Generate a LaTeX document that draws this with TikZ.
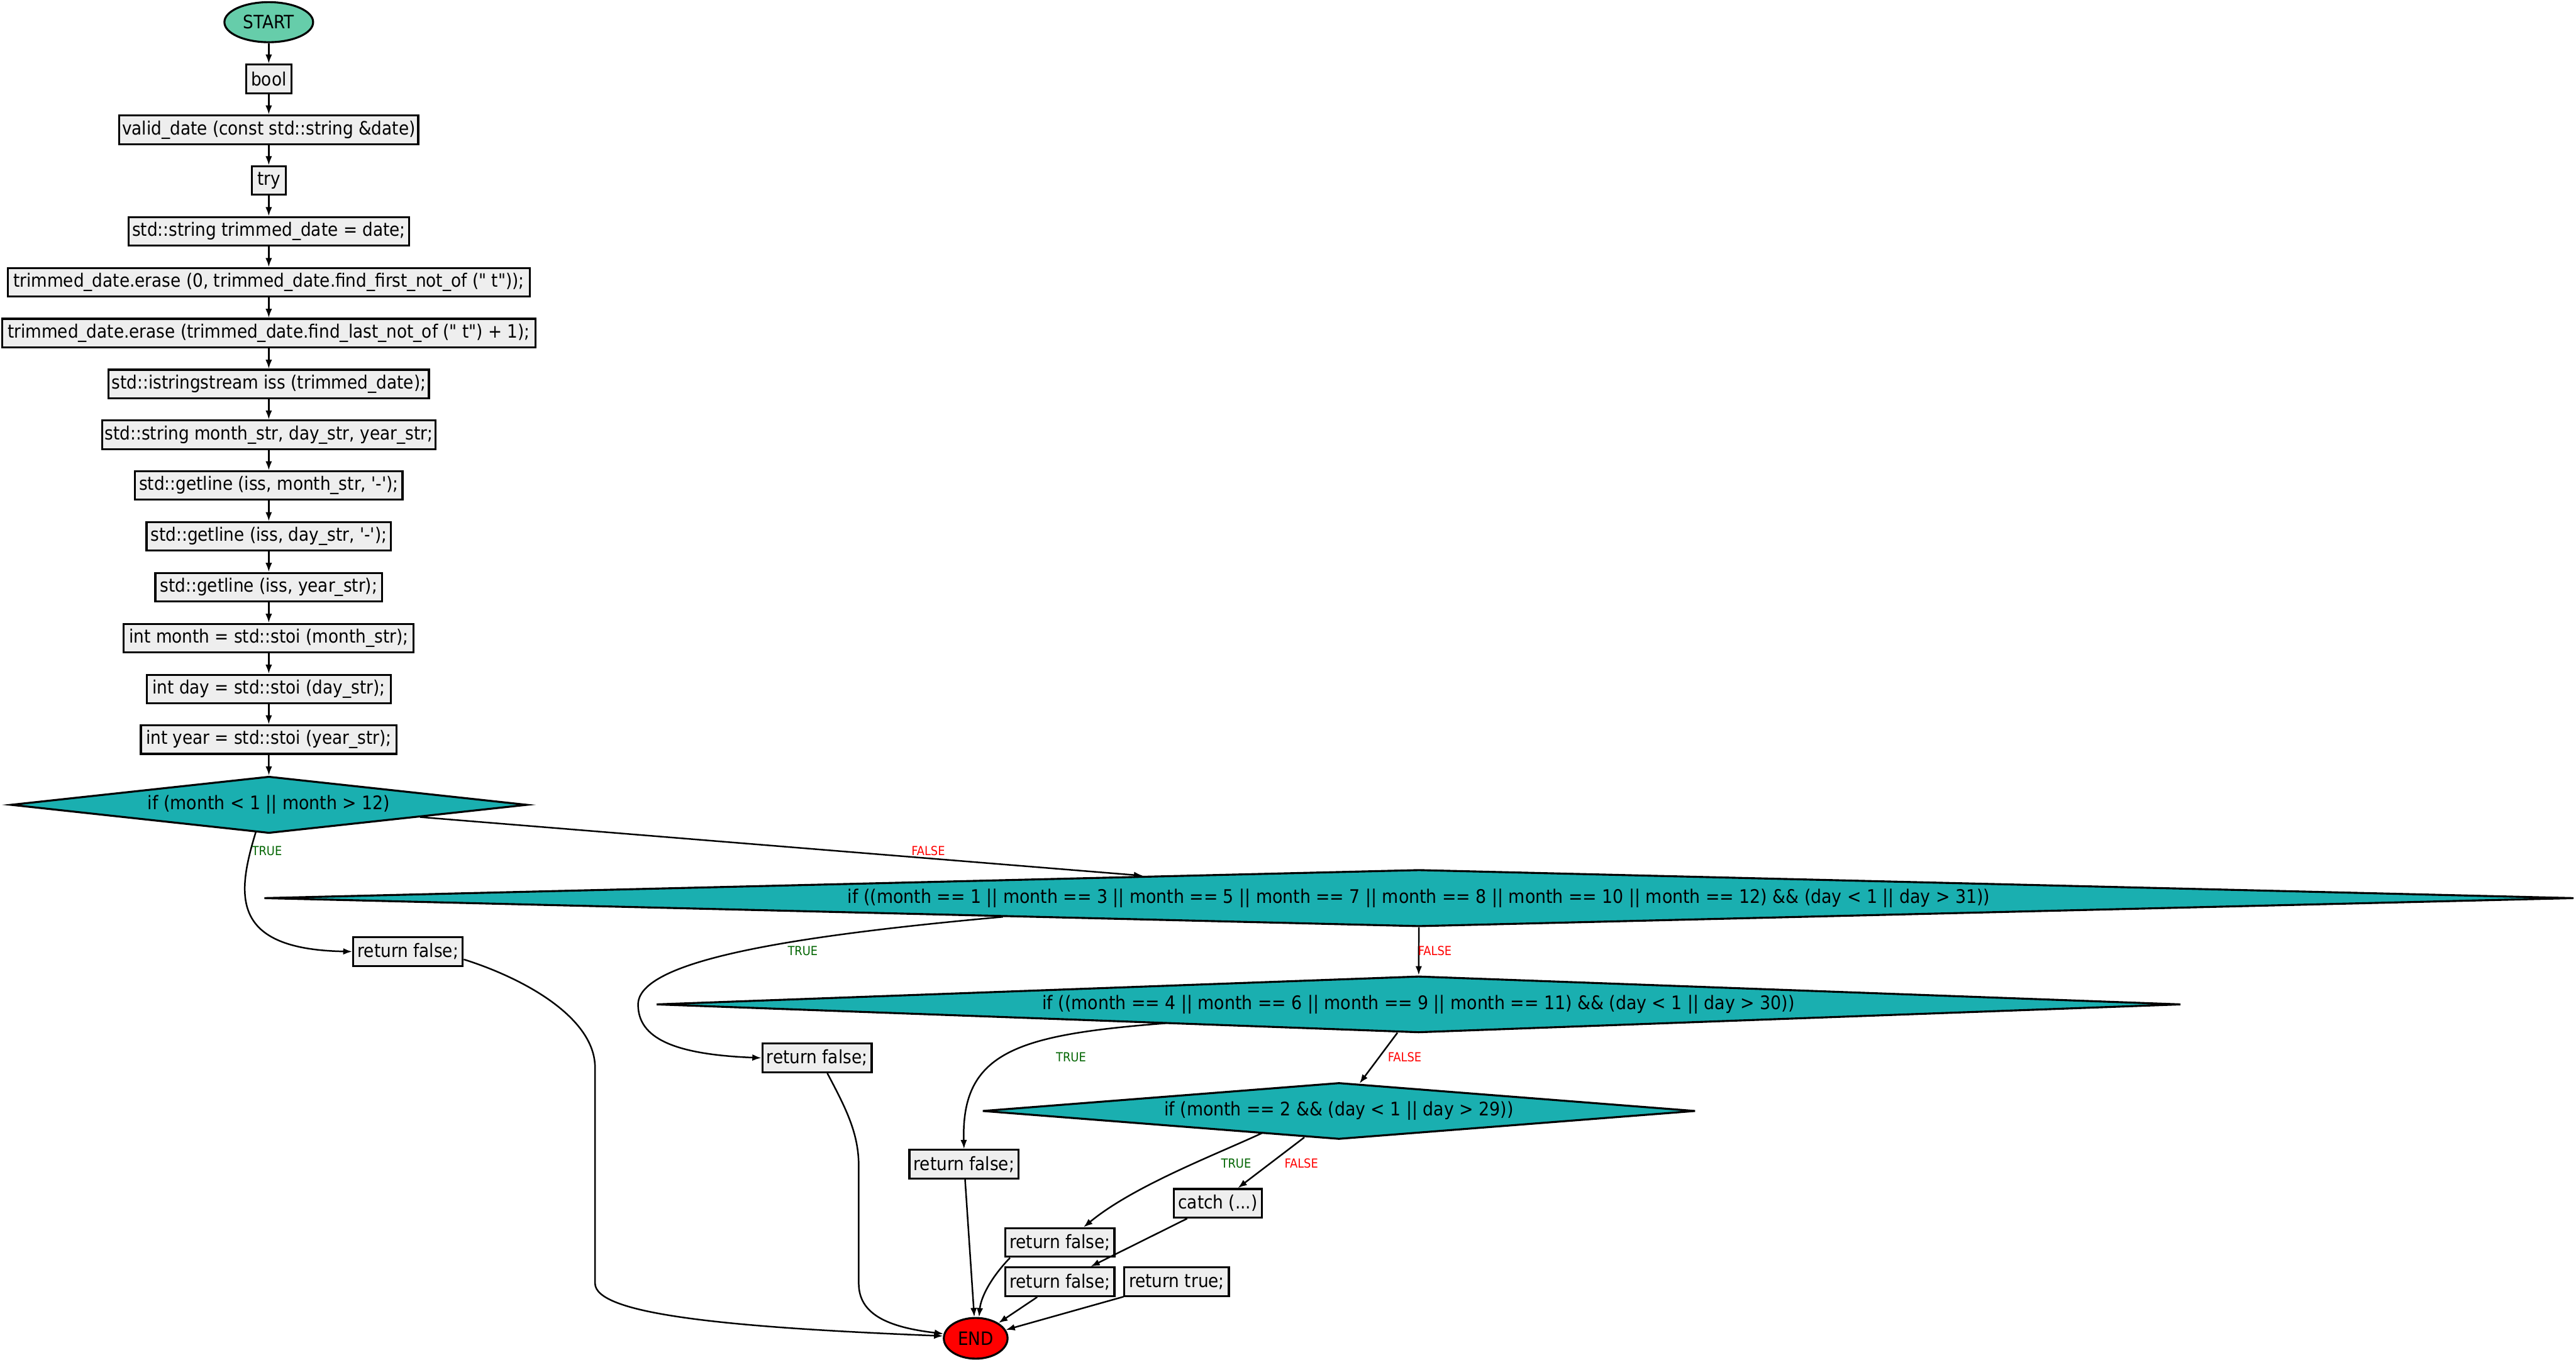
\documentclass[tikz,border=0pt]{standalone}
\usepackage{fontspec}
\newfontfamily\codefont{DejaVu Sans Condensed}
\usetikzlibrary{shapes.geometric,arrows.meta,calc}
\definecolor{boxfill}{HTML}{EEEEEE}
\definecolor{decfill}{HTML}{1AAFB0}
\definecolor{startfill}{HTML}{66CDAA}
\definecolor{truegreen}{HTML}{006400}
\begin{document}
\begin{tikzpicture}[x=1pt,y=-1pt,
  box/.style={draw,line width=1.2pt,fill=boxfill,rectangle,inner sep=0pt,minimum height=17.4pt,font=\codefont\fontsize{11.2}{12}\selectfont},
  dec/.style={draw,line width=1.2pt,fill=decfill,diamond,inner sep=0pt,aspect=1,font=\codefont\fontsize{11.4}{12}\selectfont},
  term/.style={draw,line width=1.2pt,ellipse,inner sep=0pt,font=\codefont\fontsize{11.2}{12}\selectfont},
  flow/.style={line width=0.95pt,-{Latex[length=5.5pt,width=4pt]}},
  tlab/.style={font=\codefont\fontsize{7.6}{8}\selectfont,text=truegreen,inner sep=0pt},
  flab/.style={font=\codefont\fontsize{7.6}{8}\selectfont,text=red,inner sep=0pt}]
\useasboundingbox (0,0) rectangle (1568,828);

% main column
\node[term,fill=startfill,minimum width=54pt,minimum height=24.4pt] (nstart) at (163.6,13.5) {START};
\node[box,minimum width=27.6pt] (bool) at (163.6,48) {bool};
\node[box,minimum width=181.9pt] (valid) at (163.6,79) {valid\_date (const std::string \&date)};
\node[box,minimum width=20.5pt] (try) at (163.6,109.9) {try};
\node[box,minimum width=170.7pt] (trim) at (163.6,140.9) {std::string trimmed\_date = date;};
\node[box,minimum width=317.6pt] (erase1) at (163.6,171.9) {trimmed\_date.erase (0, trimmed\_date.find\_first\_not\_of (" t"));};
\node[box,minimum width=324.7pt] (erase2) at (163.6,202.8) {trimmed\_date.erase (trimmed\_date.find\_last\_not\_of (" t") + 1);};
\node[box,minimum width=194.9pt] (iss) at (163.6,233.8) {std::istringstream iss (trimmed\_date);};
\node[box,minimum width=203pt] (strs) at (163.6,264.7) {std::string month\_str, day\_str, year\_str;};
\node[box,minimum width=162.8pt] (gl1) at (163.6,295.6) {std::getline (iss, month\_str, '-');};
\node[box,minimum width=148.8pt] (gl2) at (163.6,326.6) {std::getline (iss, day\_str, '-');};
\node[box,minimum width=138.1pt] (gl3) at (163.6,357.5) {std::getline (iss, year\_str);};
\node[box,minimum width=176.5pt] (imonth) at (163.6,388.5) {int month = std::stoi (month\_str);};
\node[box,minimum width=148.4pt] (iday) at (163.6,419.5) {int day = std::stoi (day\_str);};
\node[box,minimum width=155.7pt] (iyear) at (163.6,450.3) {int year = std::stoi (year\_str);};

% decisions
\node[dec,minimum width=314.4pt,minimum height=34.6pt] (d1) at (163.7,490) {\makebox[0pt]{if (month < 1 || month > 12)}};
\node[dec,minimum width=1406pt,minimum height=34.6pt] (d2) at (863.7,546.8) {\makebox[0pt]{if ((month == 1 || month == 3 || month == 5 || month == 7 || month == 8 || month == 10 || month == 12) \&\& (day < 1 || day > 31))}};
\node[dec,minimum width=928pt,minimum height=34.4pt] (d3) at (863.5,611.5) {\makebox[0pt]{if ((month == 4 || month == 6 || month == 9 || month == 11) \&\& (day < 1 || day > 30))}};
\node[dec,minimum width=434pt,minimum height=34.4pt] (d4) at (815,676.4) {\makebox[0pt]{if (month == 2 \&\& (day < 1 || day > 29))}};

% returns
\node[box,minimum width=66.7pt] (rf1) at (248.35,579.35) {return false;};
\node[box,minimum width=66.5pt] (rf2) at (497.3,644.1) {return false;};
\node[box,minimum width=66.5pt] (rf3) at (586.8,708.8) {return false;};
\node[box,minimum width=53.7pt] (catch) at (741.3,732.6) {catch (...)};
\node[box,minimum width=66.3pt] (rf4) at (645.2,756.5) {return false;};
\node[box,minimum width=66.3pt] (rf5) at (645.2,780.4) {return false;};
\node[box,minimum width=63.6pt] (rt) at (716.2,780.4) {return true;};
\node[term,fill=red,minimum width=38.8pt,minimum height=24.8pt] (nend) at (593.9,814.8) {END};

% column edges
\draw[flow] (nstart) -- (bool);
\draw[flow] (bool) -- (valid);
\draw[flow] (valid) -- (try);
\draw[flow] (try) -- (trim);
\draw[flow] (trim) -- (erase1);
\draw[flow] (erase1) -- (erase2);
\draw[flow] (erase2) -- (iss);
\draw[flow] (iss) -- (strs);
\draw[flow] (strs) -- (gl1);
\draw[flow] (gl1) -- (gl2);
\draw[flow] (gl2) -- (gl3);
\draw[flow] (gl3) -- (imonth);
\draw[flow] (imonth) -- (iday);
\draw[flow] (iday) -- (iyear);
\draw[flow] (iyear) -- (d1);

% decision edges
\draw[flow] ($(d1.center)+(-8,16.6)$) .. controls (144,545) and (140,578) .. (rf1.west);
\draw[flow] (d1) -- (d2);
\draw[flow] ($(d2.center)+(-253.1,11.4)$) .. controls (480,570) and (388.4,585) .. (388.4,611.6) .. controls (388.4,632) and (410,642) .. (rf2.west);
\draw[flow] (d2) -- (d3);
\draw[flow] ($(d3.center)+(-154.2,11.5)$) .. controls (620,630) and (585,640) .. (rf3.north);
\draw[flow] (d3) -- (d4);
\draw[flow] ($(d4.center)+(-46.9,13.5)$) .. controls (740,703) and (690,722) .. (rf4.33);
\draw[flow] (d4) -- (catch);
\draw[flow] (catch) -- (rf5);

% edges to END
\draw[flow] (rf1.-8) .. controls (320,596) and (362.2,620) .. (362.2,650) -- (362.2,781.3) .. controls (362.2,800) and (440,808) .. (nend.176);
\draw[flow] (rf2.-56.5) .. controls (515,675) and (522.7,690) .. (522.7,710) -- (522.7,781.3) .. controls (522.7,800) and (540,808) .. (nend.172);
\draw[flow] (rf3) -- (nend);
\draw[flow] (rf4.197.2) .. controls (603,778) and (597,790) .. (nend.81);
\draw[flow] (rf5) -- (nend);
\draw[flow] (rt) -- (nend);

% labels
\node[tlab] (lt1) at (162.5,518) {TRUE};
\node[flab] (lf1) at (565,518) {FALSE};
\node[tlab] (lt2) at (488.6,578.8) {TRUE};
\node[flab] (lf2) at (873.4,578.8) {FALSE};
\node[tlab] (lt3) at (651.9,643.6) {TRUE};
\node[flab] (lf3) at (855,643.6) {FALSE};
\node[tlab] (lt4) at (752.4,708.3) {TRUE};
\node[flab] (lf4) at (792.1,708.3) {FALSE};
\end{tikzpicture}
\end{document}
